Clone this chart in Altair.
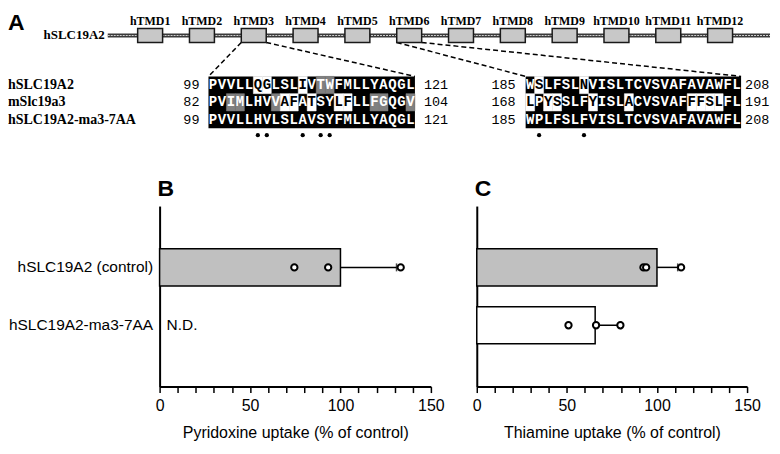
import altair as alt
import pandas as pd

# ---------------- data ----------------
tmd_names = ["hTMD1", "hTMD2", "hTMD3", "hTMD4", "hTMD5", "hTMD6",
             "hTMD7", "hTMD8", "hTMD9", "hTMD10", "hTMD11", "hTMD12"]
protein_label = "hSLC19A2"
seq_names = ["hSLC19A2", "mSlc19a3", "hSLC19A2-ma3-7AA"]

block1_seqs = ["PVVLLQGLSLIVTWFMLLYAQGL",
               "PVIMLHVVAFATSYLFLLFGQGV",
               "PVVLLHVLSLAVSYFMLLYAQGL"]
block1_start = [99, 82, 99]
block1_end = [121, 104, 121]
block1_shade = [".....WW...W.GG.........",
                "..GG...GWW.W..WW..GG..G",
                "......................."]

block2_seqs = ["WSLFSLNVISLTCVSVAFAVAWFL",
               "LPYSSLFYISLACVSVAFFFSLFL",
               "WPLFSLFVISLTCVSVAFAVAWFL"]
block2_start = [185, 168, 185]
block2_end = [208, 191, 208]
block2_shade = [".W....W.................",
                "W.WW...W...W......WWWW..",
                "........................"]
block_tmd = [3, 6]  # TMD each alignment block zooms into

constructs = ["hSLC19A2 (control)", "hSLC19A2-ma3-7AA"]
pyridoxine_mean = [100.0, None]
pyridoxine_upper = [131.0, None]
pyridoxine_points = [[74.5, 93.2, 133.3], []]
thiamine_mean = [100.0, 65.7]
thiamine_upper = [111.5, 80.0]
thiamine_points = [[92.5, 94.0, 113.4], [50.9, 66.2, 79.7]]

# ---------------- layout (panel A, pixel space) ----------------
WA, HA = 764, 170
PLOT_LEFT = 152          # x where panel B's plot area starts; panel A is aligned to it
TMD_X0, TMD_STEP, TMD_W = 142.5, 51.95, 25
BOX_Y1, BOX_Y2 = 20, 34
LINE_Y, LINE_X1, LINE_X2 = 27, 100, 764
CELL_W, ROW_H, ROW_TOP = 9, 17.33, 68
BLOCK_X = [201, 519]
NUM_L_X = [192, 509]
NUM_R_X = [417, 739]
DOT_Y = 127

SERIF = "Liberation Serif"
MONO = "Liberation Mono"
SANS = "Liberation Sans"

xsA = alt.Scale(domain=[0, WA], range=[-PLOT_LEFT, WA - PLOT_LEFT], nice=False, zero=False)
ysA = alt.Scale(domain=[0, HA], nice=False, zero=False, reverse=True)


def XA(f):
    return alt.X(f"{f}:Q", scale=xsA, axis=None)


def YA(f):
    return alt.Y(f"{f}:Q", scale=ysA, axis=None)


# protein line
line_df = pd.DataFrame({"x1": [LINE_X1], "x2": [LINE_X2], "y": [LINE_Y]})
line_outer = alt.Chart(line_df).mark_rule(color="#3a3a3a", strokeWidth=4).encode(
    x=XA("x1"), x2=alt.X2("x2"), y=YA("y"))
line_inner = alt.Chart(line_df).mark_rule(color="#cfcfcf", strokeWidth=1.2, strokeDash=[2, 1]).encode(
    x=XA("x1"), x2=alt.X2("x2"), y=YA("y"))

# TMD boxes
tmd_rows = []
for i, n in enumerate(tmd_names):
    xc = TMD_X0 + TMD_STEP * i
    tmd_rows.append({"name": n, "xc": xc, "x1": xc - TMD_W / 2, "x2": xc + TMD_W / 2,
                     "y1": BOX_Y1, "y2": BOX_Y2, "ly": 12})
tmd_df = pd.DataFrame(tmd_rows)
boxes = alt.Chart(tmd_df).mark_rect(fill="#c8c8c8", stroke="#1a1a1a", strokeWidth=1.5).encode(
    x=XA("x1"), x2=alt.X2("x2"), y=YA("y1"), y2=alt.Y2("y2"))
tmd_labels = alt.Chart(tmd_df).mark_text(font=SERIF, fontWeight="bold", fontSize=12,
                                         baseline="middle", color="black").encode(
    x=XA("xc"), y=YA("ly"), text="name:N")
prot_label = alt.Chart(pd.DataFrame({"t": [protein_label], "x": [97], "y": [LINE_Y]})).mark_text(
    font=SERIF, fontWeight="bold", fontSize=13, align="right", baseline="middle", color="black").encode(
    x=XA("x"), y=YA("y"), text="t:N")

# alignment
blocks = [(block1_seqs, block1_start, block1_end, block1_shade),
          (block2_seqs, block2_start, block2_end, block2_shade)]
bg_rows, cell_rows, char_rows, num_rows, dot_rows, dash_rows = [], [], [], [], [], []
for b, (seqs, starts, ends, shades) in enumerate(blocks):
    n = len(seqs[0])
    bx = BLOCK_X[b]
    bg_rows.append({"x1": bx, "x2": bx + n * CELL_W, "y1": ROW_TOP, "y2": ROW_TOP + 3 * ROW_H})
    for r in range(3):
        y1 = ROW_TOP + r * ROW_H
        for i, ch in enumerate(seqs[r]):
            s = shades[r][i]
            x1 = bx + i * CELL_W
            fill = {"W": "#ffffff", "G": "#808080"}.get(s, "#000000")
            tcol = "#000000" if s == "W" else "#ffffff"
            if s in "WG":
                cell_rows.append({"x1": x1, "x2": x1 + CELL_W, "y1": y1, "y2": y1 + ROW_H, "fill": fill})
            char_rows.append({"x": x1 + CELL_W / 2, "y": y1 + ROW_H / 2, "ch": ch, "col": tcol})
        num_rows.append({"x": NUM_L_X[b], "y": y1 + ROW_H / 2, "t": str(starts[r]), "side": "L"})
        num_rows.append({"x": NUM_R_X[b], "y": y1 + ROW_H / 2, "t": str(ends[r]), "side": "R"})
    # mutated positions: where the chimera differs from hSLC19A2
    for i in range(n):
        if seqs[0][i] != seqs[2][i]:
            dot_rows.append({"x": bx + i * CELL_W + CELL_W / 2, "y": DOT_Y})
    t = block_tmd[b] - 1
    xc = TMD_X0 + TMD_STEP * t
    dash_rows.append({"x1": xc - TMD_W / 2, "y1": BOX_Y2, "x2": bx, "y2": ROW_TOP})
    dash_rows.append({"x1": xc + TMD_W / 2, "y1": BOX_Y2, "x2": bx + n * CELL_W, "y2": ROW_TOP})

bg = alt.Chart(pd.DataFrame(bg_rows)).mark_rect(fill="black").encode(
    x=XA("x1"), x2=alt.X2("x2"), y=YA("y1"), y2=alt.Y2("y2"))
cells = alt.Chart(pd.DataFrame(cell_rows)).mark_rect(strokeWidth=0.5).encode(
    x=XA("x1"), x2=alt.X2("x2"), y=YA("y1"), y2=alt.Y2("y2"),
    fill=alt.Fill("fill:N", scale=None), stroke=alt.Stroke("fill:N", scale=None))
chars = alt.Chart(pd.DataFrame(char_rows)).mark_text(font=MONO, fontWeight="bold", fontSize=14,
                                                     baseline="middle").encode(
    x=XA("x"), y=YA("y"), text="ch:N", color=alt.Color("col:N", scale=None))
num_df = pd.DataFrame(num_rows)
nums_l = alt.Chart(num_df[num_df.side == "L"]).mark_text(font=MONO, fontSize=13.5, align="right",
                                                        baseline="middle", color="black").encode(
    x=XA("x"), y=YA("y"), text="t:N")
nums_r = alt.Chart(num_df[num_df.side == "R"]).mark_text(font=MONO, fontSize=13.5, align="left",
                                                        baseline="middle", color="black").encode(
    x=XA("x"), y=YA("y"), text="t:N")
row_labels = alt.Chart(pd.DataFrame({"t": seq_names, "x": [0, 0, 0],
                                     "y": [ROW_TOP + (r + 0.5) * ROW_H for r in range(3)]})).mark_text(
    font=SERIF, fontWeight="bold", fontSize=14, align="left", baseline="middle", color="black").encode(
    x=XA("x"), y=YA("y"), text="t:N")
dots = alt.Chart(pd.DataFrame(dot_rows)).mark_circle(size=18, color="black", opacity=1).encode(
    x=XA("x"), y=YA("y"))
dashes = alt.Chart(pd.DataFrame(dash_rows)).mark_rule(color="black", strokeWidth=1.5,
                                                      strokeDash=[5, 3]).encode(
    x=XA("x1"), y=YA("y1"), x2=alt.X2("x2"), y2=alt.Y2("y2"))
letterA = alt.Chart(pd.DataFrame({"t": ["A"], "x": [0], "y": [3]})).mark_text(
    font=SANS, fontWeight="bold", fontSize=23, align="left", baseline="top", color="black").encode(
    x=XA("x"), y=YA("y"), text="t:N")

panelA = alt.layer(dashes, line_outer, line_inner, boxes, tmd_labels, prot_label, bg, cells, chars,
                   nums_l, nums_r, row_labels, dots, letterA).properties(width=WA - PLOT_LEFT, height=HA)


# ---------------- panels B and C ----------------
def bar_panel(letter, title, means, uppers, points, show_labels):
    ysc = alt.Scale(domain=constructs, paddingInner=0.36, paddingOuter=0.74)
    xsc = alt.Scale(domain=[0, 150], nice=False, zero=True)
    xaxis = alt.Axis(values=list(range(0, 151, 10)),
                     labelExpr="datum.value % 50 === 0 ? datum.label : ''",
                     tickSize=6, tickWidth=1.5, tickColor="black",
                     domainColor="black", domainWidth=2, grid=False,
                     labelFont=SANS, labelFontSize=16, labelColor="black", labelPadding=5,
                     labelFlush=False,
                     title=title, titleFont=SANS, titleFontSize=16, titleFontWeight="normal",
                     titleColor="black", titlePadding=11)
    yaxis = alt.Axis(title=None, ticks=False, domainColor="black", domainWidth=2, grid=False,
                     labels=show_labels, labelFont=SANS, labelFontSize=15.5, labelColor="black",
                     labelPadding=7)

    def xe(f):
        return alt.X(f"{f}:Q", scale=xsc, axis=xaxis)

    def ye():
        return alt.Y("construct:N", scale=ysc, axis=yaxis)

    bar_df = pd.DataFrame([{"construct": c, "mean": m, "upper": u}
                           for c, m, u in zip(constructs, means, uppers) if m is not None])
    pt_df = pd.DataFrame([{"construct": c, "value": v}
                          for c, vs in zip(constructs, points) for v in vs])
    bars = alt.Chart(bar_df).mark_bar(stroke="black", strokeWidth=1.5).encode(
        x=xe("mean"), y=ye(),
        fill=alt.Fill("construct:N", scale=alt.Scale(domain=constructs, range=["#c0c0c0", "#ffffff"]),
                      legend=None))
    err = alt.Chart(bar_df).mark_rule(color="black", strokeWidth=1.5).encode(
        x=xe("mean"), x2=alt.X2("upper"), y=ye())
    cap = alt.Chart(bar_df).mark_tick(color="black", thickness=1.5, size=8).encode(
        x=xe("upper"), y=ye())
    pts = alt.Chart(pt_df).mark_point(shape="circle", filled=True, fill="white", stroke="black",
                                      strokeWidth=2, size=40, opacity=1).encode(
        x=xe("value"), y=ye())
    lab = alt.Chart(pd.DataFrame({"t": [letter]})).mark_text(
        font=SANS, fontWeight="bold", fontSize=23, align="left", baseline="middle", color="black").encode(
        x=alt.value(-2), y=alt.value(-17), text="t:N")
    layers = [bars, err, cap, pts, lab]
    nd = [c for c, m in zip(constructs, means) if m is None]
    if nd:
        nd_df = pd.DataFrame({"construct": nd, "v": [0] * len(nd), "t": ["N.D."] * len(nd)})
        layers.append(alt.Chart(nd_df).mark_text(font=SANS, fontSize=15.5, align="left", dx=7,
                                                 baseline="middle", color="black").encode(
            x=xe("v"), y=ye(), text="t:N"))
    return alt.layer(*layers)


panelB = bar_panel("B", "Pyridoxine uptake (% of control)", pyridoxine_mean, pyridoxine_upper,
                   pyridoxine_points, True).properties(width=272, height=181)
panelC = bar_panel("C", "Thiamine uptake (% of control)", thiamine_mean, thiamine_upper,
                   thiamine_points, False).properties(width=271, height=181)

chart = alt.vconcat(panelA, alt.hconcat(panelB, panelC, spacing=27), spacing=0).properties(
    padding=0).configure_view(stroke=None)

chart.save("out.html", embed_options={"renderer": "svg", "actions": False})
